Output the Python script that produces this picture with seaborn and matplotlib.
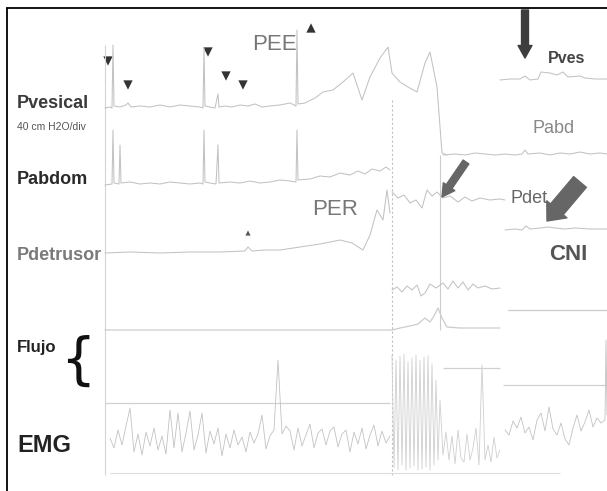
import numpy as np
import matplotlib
matplotlib.use("Agg")
import matplotlib.pyplot as plt
import seaborn as sns

# Trazado urodinamico: Pvesical, Pabdom, Pdetrusor, Flujo, EMG

sns.set_theme(style="white")
plt.rcParams['font.family'] = ['Liberation Sans', 'DejaVu Sans']

TRACE = "#c2c2c2"

# --- Pvesical (tramo 1), valores sobre la linea base
t_pves = [105, 110, 112, 113, 114, 120, 126, 128, 131, 140, 150, 160, 170, 180, 190, 200, 203, 204, 205,
          210, 215, 218, 219, 225, 232, 240, 248, 255, 262, 270, 280, 290, 296, 297, 298, 305, 315, 323,
          333, 343, 353, 362, 370, 380, 388, 392, 400, 408, 417, 425, 430, 437, 442, 447]
v_pves = [0, 1, 0, 63, 2, 1, 3, 5, 1, 2, 1, 3, 1, 3, 2, 1, 0, 60, 2,
          1, 0, 14, 1, 2, 1, 3, 2, 4, 1, 2, 3, 5, 2, 78, 4, 5, 10, 16,
          18, 26, 35, 8, 31, 50, 61, 35, 26, 21, 16, 45, 56, 21, -45, -47]
# Pves (tramo final)
t_pves2 = [500, 510, 520, 525, 530, 538, 541, 550, 557, 563, 568, 580, 585, 595, 607]
v_pves2 = [0, 1, 1, 4, 0, 1, 8, 7, 5, 8, 3, 4, 2, 1, 1]

# --- Pabdom
t_pabd = [105, 112, 113, 114, 119, 120, 121, 130, 140, 150, 160, 170, 180, 190, 200, 203, 204, 205, 210,
          216, 218, 219, 230, 240, 250, 260, 270, 280, 290, 296, 297, 298, 310, 320, 330, 340, 350, 358,
          365, 372, 380, 386, 390]
v_pabd = [0, 1, 55, 2, 1, 40, 2, 3, 1, 2, 1, 3, 2, 1, 2, 1, 55, 3, 2,
          1, 40, 2, 3, 2, 4, 2, 3, 5, 4, 3, 55, 5, 6, 9, 8, 12, 10, 14,
          11, 16, 14, 18, 15]
t_pabd2 = [443, 455, 465, 475, 485, 495, 505, 515, 522, 525, 528, 540, 550, 560, 570, 580, 590, 600, 607]
v_pabd2 = [0, 1, 0, 2, 1, 0, 1, 0, 1, 5, 1, 2, 0, 2, 1, 3, 1, 2, 1]

# --- Pdetrusor
t_pdet = [105, 130, 160, 190, 220, 245, 248, 252, 265, 280, 300, 320, 340, 352, 363, 370, 377, 383, 387, 390]
v_pdet = [0, 1, 0, 1, 1, 2, 6, 2, 3, 3, 6, 9, 13, 10, 3, 18, 43, 33, 63, 40]
t_pdet2 = [392, 398, 404, 410, 416, 422, 427, 432, 437, 443, 450, 458, 465, 472, 480, 490, 500, 505]
v_pdet2 = [8, 2, 5, -3, 0, -8, 10, 4, 8, 2, 4, -2, 3, -1, 2, 0, 1, 0]
t_pdet3 = [505, 515, 522, 526, 530, 540, 548, 555, 565, 575, 590, 607]
v_pdet3 = [0, 1, 0, 4, 1, 2, 3, 2, 1, 2, 1, 1]

# --- trazo intermedio durante la miccion
t_mic = [392, 397, 402, 407, 412, 417, 421, 425, 430, 436, 443, 448, 453, 458, 463, 468, 473, 478, 485, 492, 500]
v_mic = [0, 3, -2, 4, 0, 5, -6, -3, 6, 2, 7, 1, 9, 2, 8, 0, 6, 2, 4, 1, 2]

# --- Flujo
t_flujo = [105, 392, 400, 410, 418, 425, 430, 434, 438, 442, 447, 460, 480, 500]
v_flujo = [0, 0, 2, 4, 6, 12, 8, 14, 22, 12, 3, 2, 2, 2]
t_flujo2 = [508, 607]
v_flujo2 = [0, 0]

# --- EMG
t_emg = list(range(110, 391, 4))
v_emg = [2, -8, 10, -5, 14, 32, -12, 6, -15, 8, -6, 12, -10, 4, -14, 30, -8, 27, -12, 7,
         29, -10, 5, 27, -13, 9, -4, 12, -16, 6, -8, 10, -5, 3, -12, 8, -3, 6, 25, -9,
         4, 10, 80, 6, 14, 9, -10, 12, -6, 5, 16, -8, 7, 11, -5, 9, 13, -7, 6, 10,
         -12, 8, -4, 12, -9, 5, 15, -6, 9, -3, 4]
t_emg2 = list(range(392, 441, 2)) + list(range(443, 501, 3))
v_emg2 = [85, -28, 80, -30, 84, -25, 86, -30, 78, -28, 82, -26, 85, -30, 80, -29, 83, -27, 84, -30,
          76, -25, 60, -20, 40,
          -15, 8, -20, 4, -24, 10, -18, -22, 6, -20, -8, 12, -25, 75, -20, -5, -22, 3, -18, -10]
t_emg3 = list(range(505, 606, 4)) + [606, 607]
v_emg3 = [-5, -10, 4, -3, 8, -8, -2, -15, 5, 12, -6, 18, -4, -10, 2, -14, -20, -3, 10, -6,
          3, 15, -2, 7, 2, 5, 85, 10]

# marcas de eventos (triangulos)
ev_down_x = [108, 128, 208, 226, 243]
ev_down_y = [61, 85, 52, 76, 85]


def trace(ax, t, v, base, color=TRACE, lw=0.75, ls="-"):
    y = base - np.asarray(v, dtype=float)
    sns.lineplot(x=t, y=y, sort=False, estimator=None, color=color, lw=lw, ls=ls, ax=ax)


fig = plt.figure(figsize=(6.07, 4.91), dpi=100)
ax = fig.add_axes([0, 0, 1, 1])
ax.set_xlim(0, 607)
ax.set_ylim(491, 0)
ax.axis("off")

# marco
ax.plot([7, 607], [8, 8], color="black", lw=1.3)
ax.plot([7, 7], [8, 491], color="black", lw=1.3)

# ejes / referencias
ax.vlines(105, 45, 475, color="#d4d4d4", lw=0.8)
ax.vlines(392, 100, 475, color="#c0c0c0", lw=0.8, linestyles=(0, (2, 2)))
ax.vlines(440, 155, 330, color="#cccccc", lw=0.8)
ax.hlines(403, 105, 390, color="#d0d0d0", lw=0.9)
ax.hlines(368, 443, 500, color="#d0d0d0", lw=0.9)
ax.hlines(385, 503, 607, color="#d0d0d0", lw=0.9)
ax.hlines(473, 110, 560, color="#dcdcdc", lw=0.8)

trace(ax, t_pves, v_pves, 108)
trace(ax, t_pves2, v_pves2, 80)
trace(ax, t_pabd, v_pabd, 185)
trace(ax, t_pabd2, v_pabd2, 155)
trace(ax, t_pdet, v_pdet, 253)
trace(ax, t_pdet2, v_pdet2, 200)
trace(ax, t_pdet3, v_pdet3, 230)
trace(ax, t_mic, v_mic, 290)
trace(ax, t_flujo, v_flujo, 330, color="#cccccc", lw=0.9)
trace(ax, t_flujo2, v_flujo2, 310, color="#cccccc", lw=0.9)
trace(ax, t_emg, v_emg, 440, lw=0.6)
trace(ax, t_emg2, v_emg2, 440, color="#cfcfcf", lw=0.6)
trace(ax, t_emg3, v_emg3, 425, lw=0.6)

sns.scatterplot(x=ev_down_x, y=ev_down_y, marker="v", s=45, color="#333333", edgecolor="none", ax=ax)
sns.scatterplot(x=[311], y=[28], marker="^", s=45, color="#333333", edgecolor="none", ax=ax)
sns.scatterplot(x=[248], y=[233], marker="^", s=14, color="#555555", edgecolor="none", ax=ax)

# etiquetas de canales
ax.text(17, 108, "Pvesical", fontsize=13, fontweight="bold", color="#3a3a3a")
ax.text(17, 130, "40 cm H2O/div", fontsize=7.5, color="#555555")
ax.text(17, 184, "Pabdom", fontsize=13, fontweight="bold", color="#2a2a2a")
ax.text(17, 260, "Pdetrusor", fontsize=13, fontweight="bold", color="#7a7a7a")
ax.text(17, 352, "Flujo", fontsize=12, fontweight="bold", color="#222222")
ax.text(17, 452, "EMG", fontsize=17, fontweight="bold", color="#222222")
ax.text(78, 362, "{", fontsize=40, color="#111111", ha="center", va="center",
        family=["DejaVu Sans"])

ax.text(252, 50, "PEE", fontsize=16, color="#777777")
ax.text(312, 215, "PER", fontsize=16, color="#777777")
ax.text(548, 63, "Pves", fontsize=11.5, fontweight="bold", color="#444444")
ax.text(532, 133, "Pabd", fontsize=13, color="#888888")
ax.text(511, 203, "Pdet", fontsize=13, color="#666666")
ax.text(549, 260, "CNI", fontsize=16, fontweight="bold", color="#555555")

# flechas
ax.annotate("", xy=(525, 58), xytext=(525, 10),
            arrowprops=dict(arrowstyle="simple,head_length=0.9,head_width=1.0,tail_width=0.5",
                            color="#3d3d3d", mutation_scale=10, shrinkA=0, shrinkB=0))
ax.annotate("", xy=(442, 197), xytext=(466, 162),
            arrowprops=dict(arrowstyle="simple,head_length=0.9,head_width=1.0,tail_width=0.5",
                            color="#666666", mutation_scale=10, shrinkA=0, shrinkB=0))
ax.annotate("", xy=(547, 221), xytext=(580, 182),
            arrowprops=dict(arrowstyle="simple,head_length=0.55,head_width=0.95,tail_width=0.6",
                            color="#666666", mutation_scale=20, shrinkA=0, shrinkB=0))

fig.savefig("out.png", dpi=100)
